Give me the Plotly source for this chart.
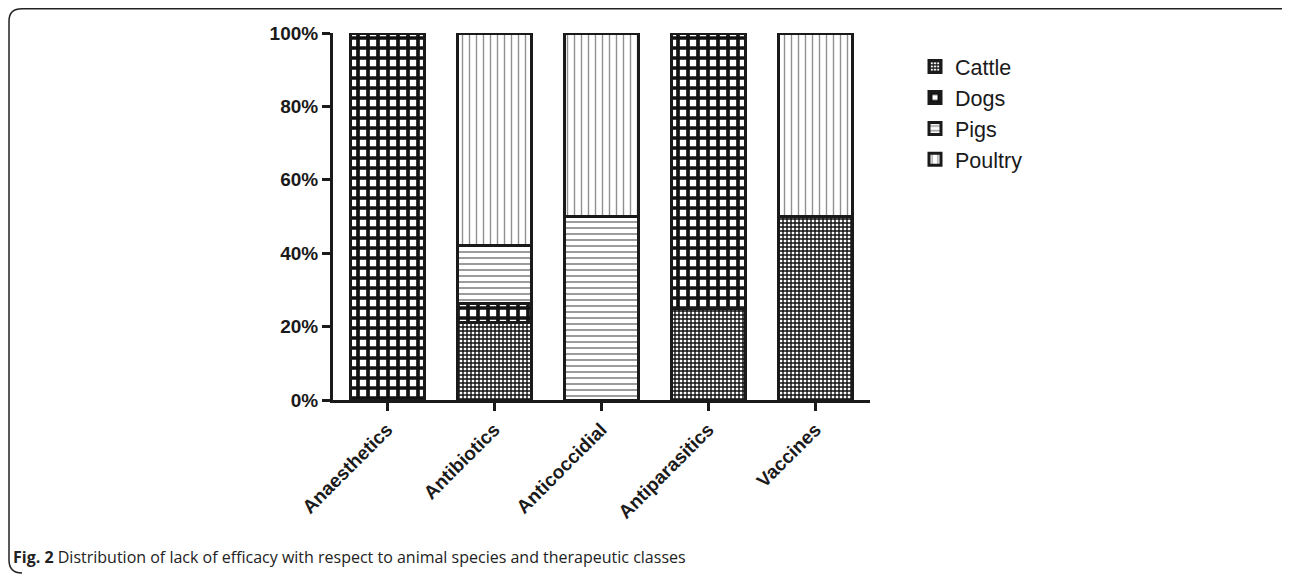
import plotly.graph_objects as go

categories = ["Anaesthetics", "Antibiotics", "Anticoccidial", "Antiparasitics", "Vaccines"]
cattle = [0, 21.05, 0, 25, 50]
dogs = [100, 5.26, 0, 75, 0]
pigs = [0, 15.79, 50, 0, 0]
poultry = [0, 57.9, 50, 0, 50]
y_ticks = [0, 20, 40, 60, 80, 100]
y_tick_labels = ["0%", "20%", "40%", "60%", "80%", "100%"]
caption_bold = "Fig. 2"
caption_text = " Distribution of lack of efficacy with respect to animal species and therapeutic classes"

OFF = 8  # page body margin
W, H = 1290 - OFF, 574 - OFF

def px_x(p):
    return (p - OFF) / W

def px_y(p):
    return 1 - (p - OFF) / H

series = [
    ("Cattle", cattle, dict(shape="+", fgcolor="#111111", bgcolor="white", size=4, solidity=0.58, fgopacity=1)),
    ("Dogs", dogs, dict(shape="+", fgcolor="#111111", bgcolor="white", size=10, solidity=0.6, fgopacity=1)),
    ("Pigs", pigs, dict(shape="-", fgcolor="#222222", bgcolor="white", size=6, solidity=0.3)),
    ("Poultry", poultry, dict(shape="|", fgcolor="#222222", bgcolor="white", size=7, solidity=0.2)),
]

fig = go.Figure()
for name, vals, pat in series:
    fig.add_trace(go.Bar(
        name=name, x=categories, y=vals, width=0.69,
        marker=dict(color="white", line=dict(color="#1a1a1a", width=3), pattern=pat),
    ))

fig.update_layout(
    width=W, height=H, barmode="stack",
    margin=dict(l=0, r=0, t=0, b=0, autoexpand=False),
    paper_bgcolor="white", plot_bgcolor="white",
    font=dict(family="Liberation Sans, Arial", color="#1a1a1a"),
    xaxis=dict(
        domain=[px_x(333), px_x(870)], range=[-0.505, 4.51],
        showline=True, linecolor="#1a1a1a", linewidth=3,
        ticks="outside", ticklen=8, tickwidth=3, tickcolor="#1a1a1a",
        tickangle=-45, tickfont=dict(size=19, family="Liberation Sans, Arial", weight="bold"),
        showgrid=False, zeroline=False, automargin=False,
    ),
    yaxis=dict(
        domain=[px_y(400), px_y(33)], range=[0, 100],
        showline=True, linecolor="#1a1a1a", linewidth=3,
        ticks="outside", ticklen=8, tickwidth=3, tickcolor="#1a1a1a",
        tickvals=y_ticks, ticktext=y_tick_labels,
        tickfont=dict(size=19, family="Liberation Sans, Arial", weight="bold"),
        showgrid=False, zeroline=False, automargin=False,
    ),
    legend=dict(
        x=px_x(915), y=px_y(46), xanchor="left", yanchor="top",
        font=dict(size=21.5, family="Liberation Sans, Arial", color="#1a1a1a"),
        bgcolor="rgba(0,0,0,0)", tracegroupgap=0, traceorder="normal",
    ),
    showlegend=True,
)

# frame (rounded card outline: top and left edges)
fig.add_shape(type="path", xref="paper", yref="paper",
              path=f"M {px_x(1290)},{px_y(8.8)} L {px_x(22)},{px_y(8.8)} Q {px_x(9)},{px_y(8.8)} {px_x(9)},{px_y(21)} "
                   f"L {px_x(9)},{px_y(560)} Q {px_x(9)},{px_y(573)} {px_x(22)},{px_y(573)}",
              line=dict(color="#222222", width=1.5))

fig.add_annotation(
    xref="paper", yref="paper", x=px_x(11), y=px_y(557), xanchor="left", yanchor="middle",
    text=f"<b>{caption_bold}</b>{caption_text}", showarrow=False,
    font=dict(family="Open Sans", size=16, color="#222222"),
)

fig.write_html("out.html")
